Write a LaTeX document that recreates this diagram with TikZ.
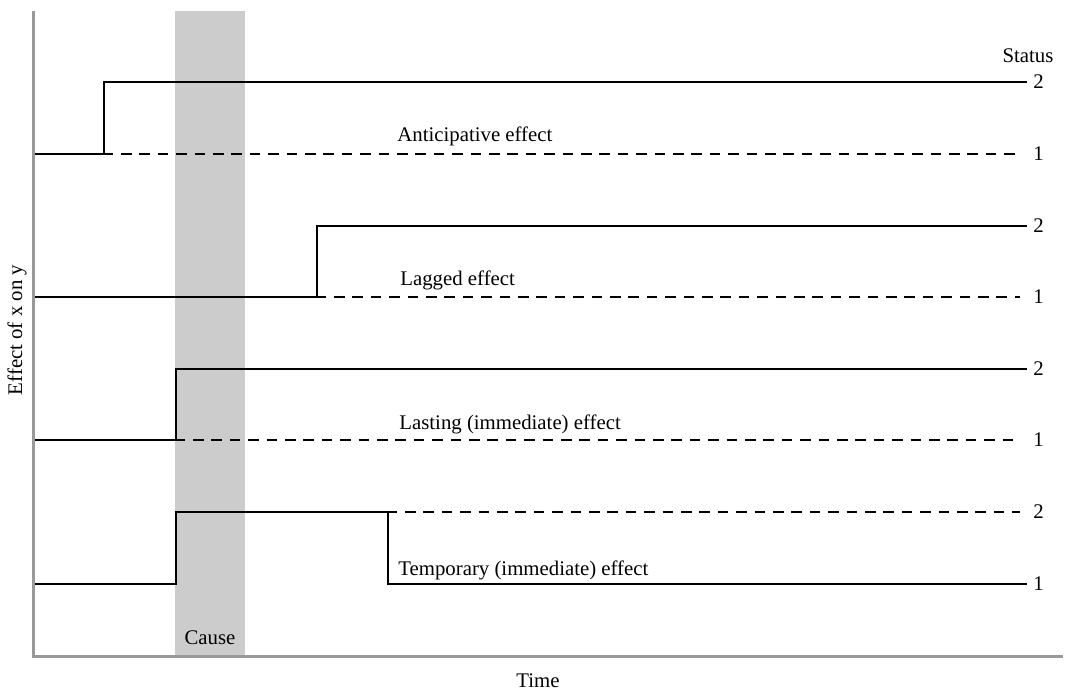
\documentclass[tikz,border=0pt]{standalone}
\usepackage{fontspec}
\setmainfont{Liberation Serif}
\begin{document}
\begin{tikzpicture}[x=0.5pt,y=-0.5pt,
  axis/.style={draw=black!40,line width=1.1pt},
  level/.style={black,line width=1.4pt},
  alt/.style={black,line width=1.4pt,dash pattern=on 5.3pt off 3.9pt},
  lbl/.style={font=\fontsize{10.4pt}{12pt}\selectfont,inner sep=0pt},
]
\useasboundingbox (0,0) rectangle (1066,689);
% cause interval
\fill[black!20] (175,11) rectangle (245,656);
% axes
\draw[axis] (33.5,11) -- (33.5,656.5) -- (1063,656.5);
% anticipative
\draw[level] (35,154) -- (113,154);
\draw[level] (104,154) -- (104,82) -- (1027,82);
\draw[alt] (121,154) -- (1020,154);
% lagged
\draw[level] (35,297) -- (326,297);
\draw[level] (317,297) -- (317,226) -- (1027,226);
\draw[alt] (334,297) -- (1020,297);
% lasting
\draw[level] (35,440) -- (185,440);
\draw[level] (176,440) -- (176,369) -- (1027,369);
\draw[alt] (193,440) -- (1020,440);
% temporary
\draw[level] (35,584) -- (176,584) -- (176,512) -- (397,512);
\draw[level] (388,512) -- (388,584) -- (1027,584);
\draw[alt] (405,512) -- (1020,512);
% status values
\foreach \y/\v [count=\i] in {82/2,154/1,226/2,297/1,369/2,440/1,512/2,584/1}
  \node[lbl,anchor=west] (s\i) at (1033,\y) {\v};
\node[lbl] (status) at (1028,56) {Status};
% effect labels
\node[lbl,anchor=base west] (ant) at (397,142) {Anticipative effect};
\node[lbl,anchor=base west] (lag) at (400,286) {Lagged effect};
\node[lbl,anchor=base west] (las) at (399,430) {Lasting (immediate) effect};
\node[lbl,anchor=base west] (tem) at (398,575) {Temporary (immediate) effect};
\node[lbl,anchor=base] (cause) at (210,644) {Cause};
\node[lbl,anchor=base] (time) at (538,687) {Time};
\node[lbl,rotate=90] (yax) at (17,330) {Effect of x on y};
\end{tikzpicture}
\end{document}
